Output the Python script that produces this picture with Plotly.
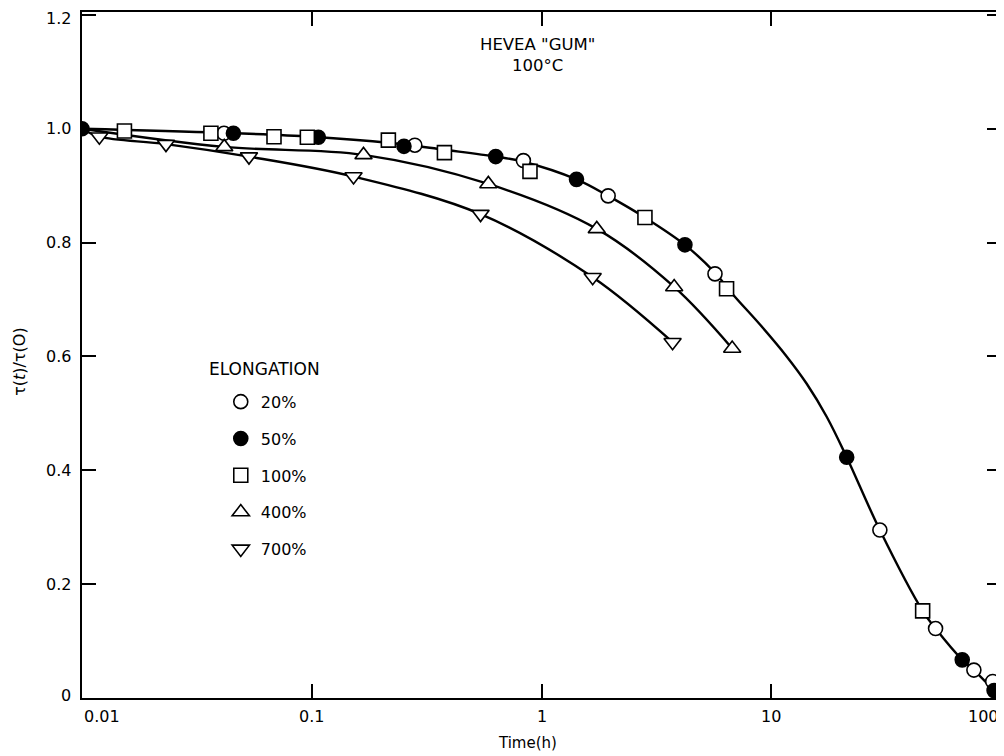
import math
import plotly.graph_objects as go

# ---- data ----
time_20 = [0.0415, 0.281, 0.834, 1.95, 5.69, 29.7, 51.9, 76.2, 92.0]
tau_20 = [0.992, 0.971, 0.944, 0.882, 0.745, 0.295, 0.122, 0.049, 0.029]

time_50 = [0.01, 0.0456, 0.1068, 0.252, 0.632, 1.42, 4.21, 21.3, 67.8, 93.3]
tau_50 = [1.0, 0.992, 0.985, 0.969, 0.951, 0.911, 0.796, 0.423, 0.067, 0.013]

time_100 = [0.0153, 0.0364, 0.0685, 0.0957, 0.2155, 0.378, 0.891, 2.82, 6.39, 45.6]
tau_100 = [0.996, 0.992, 0.986, 0.985, 0.980, 0.958, 0.925, 0.844, 0.719, 0.153]

time_400 = [0.0416, 0.168, 0.587, 1.74, 3.78, 6.76]
tau_400 = [0.968, 0.954, 0.903, 0.824, 0.722, 0.614]

time_700 = [0.0119, 0.0232, 0.0533, 0.152, 0.543, 1.67, 3.72]
tau_700 = [0.986, 0.973, 0.951, 0.916, 0.850, 0.739, 0.625]

# smooth curve through the 20/50/100 % data
main_curve_t = [0.01, 0.04, 0.1, 0.22, 0.378, 0.632, 0.834, 1.42, 1.95, 2.82,
                4.21, 5.69, 6.84, 8.93, 11.67, 14.27, 17.43, 21.3, 29.7,
                45.6, 51.9, 67.8, 76.2, 93.3]
main_curve_tau = [1.0, 0.993, 0.986, 0.975, 0.963, 0.951, 0.942, 0.911, 0.882, 0.844,
                  0.796, 0.747, 0.708, 0.656, 0.600, 0.552, 0.494, 0.423, 0.295,
                  0.153, 0.122, 0.067, 0.049, 0.013]

origin_t = [0.01]
origin_tau = [1.0]

x_tickvals = [0.01, 0.1, 1, 10, 100]
x_ticktext = ["0.01", "0.1", "1", "10", "100"]
y_tickvals = [0, 0.2, 0.4, 0.6, 0.8, 1.0, 1.2]
y_ticktext = ["0", "0.2", "0.4", "0.6", "0.8", "1.0", "1.2"]

FONT = "DejaVu Sans, Liberation Sans, sans-serif"
LINE = dict(color="black", width=2.4, shape="spline", smoothing=1.0)

fig = go.Figure()

# curves
fig.add_trace(go.Scatter(x=main_curve_t, y=main_curve_tau, mode="lines",
                         line=LINE, showlegend=False, hoverinfo="skip"))
fig.add_trace(go.Scatter(x=origin_t + time_400, y=origin_tau + tau_400, mode="lines",
                         line=LINE, showlegend=False, hoverinfo="skip"))
fig.add_trace(go.Scatter(x=origin_t + time_700, y=origin_tau + tau_700, mode="lines",
                         line=LINE, showlegend=False, hoverinfo="skip"))

mk_line = dict(color="black", width=1.6)
series = [
    ("20%", time_20, tau_20, "circle", "white", 14),
    ("50%", time_50, tau_50, "circle", "black", 14),
    ("100%", time_100, tau_100, "square", "white", 14),
    ("400%", time_400, tau_400, "triangle-up", "white", 15),
    ("700%", time_700, tau_700, "triangle-down", "white", 15),
]
for name, xs, ys, sym, fill, sz in series:
    fig.add_trace(go.Scatter(
        x=xs, y=ys, mode="markers", name=name, legendgroup=name,
        marker=dict(symbol=sym, size=sz, color=fill, line=mk_line),
    ))

annotations = [
    dict(text="HEVEA \"GUM\"<br>100°C", xref="paper", yref="paper",
         x=0.496, y=0.969, xanchor="center", yanchor="top",
         showarrow=False, font=dict(size=16.5)),
    dict(text="ELONGATION", xref="paper", yref="paper",
         x=0.136, y=0.48, xanchor="left", yanchor="middle",
         showarrow=False, font=dict(size=17)),
    dict(text="Time(h)", xref="paper", yref="paper",
         x=0.4853, y=-0.0656, xanchor="center", yanchor="middle",
         showarrow=False, font=dict(size=15)),
    dict(text="τ(<i>t</i>)/τ(O)", xref="paper", yref="paper",
         x=0, y=0.49, xshift=-62, xanchor="center", yanchor="middle",
         textangle=-90, showarrow=False, font=dict(size=16)),
]
# x tick labels (first label sits right of its tick, last one left of it, as in the original)
n_xt = len(x_tickvals)
for i, (v, t) in enumerate(zip(x_tickvals, x_ticktext)):
    anchor = "left" if i == 0 else ("right" if i == n_xt - 1 else "center")
    annotations.append(dict(
        text=t, xref="x", yref="paper", x=math.log10(v), y=0,
        xanchor=anchor, yanchor="top", yshift=-7, showarrow=False,
        font=dict(size=16),
    ))
# y tick labels (end labels nudged inward, as in the original)
n_yt = len(y_tickvals)
for i, (v, t) in enumerate(zip(y_tickvals, y_ticktext)):
    shift = 3 if i == 0 else (-4 if i == n_yt - 1 else 0)
    annotations.append(dict(
        text=t, xref="paper", yref="y", x=0, y=v,
        xanchor="right", yanchor="middle", xshift=-9, yshift=shift,
        showarrow=False, font=dict(size=16),
    ))

fig.update_layout(
    width=996, height=748,
    margin=dict(l=74, r=3, t=4, b=58, autoexpand=False),
    paper_bgcolor="white", plot_bgcolor="white",
    font=dict(family=FONT, size=16, color="black"),
    legend=dict(x=0.151, y=0.4566, xanchor="left", yanchor="top",
                bgcolor="rgba(0,0,0,0)", tracegroupgap=13,
                font=dict(size=16), traceorder="grouped"),
    annotations=annotations,
)
fig.update_xaxes(
    type="log", range=[-2.0, 2.0], automargin=False,
    tickvals=x_tickvals, showticklabels=False,
    ticks="inside", ticklen=14, tickwidth=1.5, tickcolor="black",
    showline=True, linewidth=2, linecolor="black", mirror="ticks",
    showgrid=False, zeroline=False,
)
fig.update_yaxes(
    range=[0, 1.205], automargin=False,
    tickvals=y_tickvals, showticklabels=False,
    ticks="inside", ticklen=14, tickwidth=1.5, tickcolor="black",
    showline=True, linewidth=2, linecolor="black", mirror="ticks",
    showgrid=False, zeroline=False,
)

fig.write_html("out.html")
